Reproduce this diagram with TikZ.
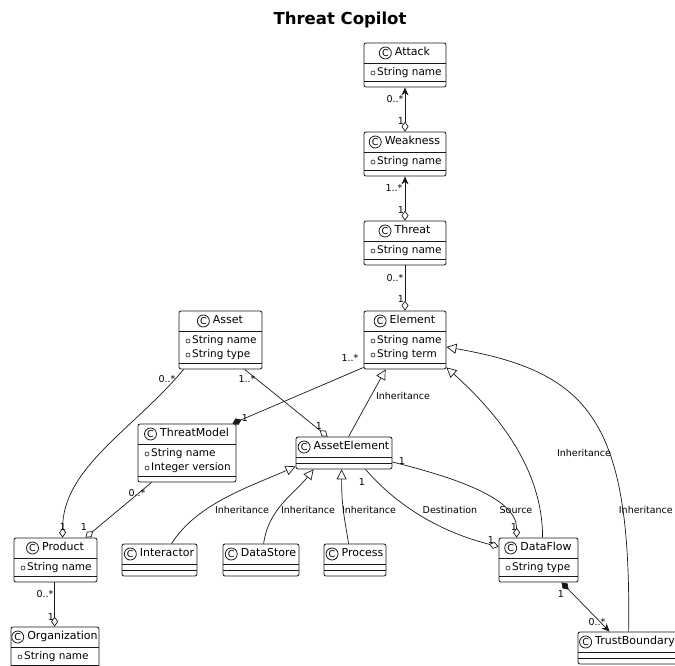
\documentclass[tikz,border=0pt]{standalone}
\usepackage{fontspec}
\setmainfont{DejaVu Sans}
\usetikzlibrary{arrows.meta}
\tikzset{
  clsbox/.style={draw=black!90, line width=0.8pt, rounded corners=2pt, inner sep=0pt, fill=white},
  sepline/.style={draw=black!90, line width=0.8pt},
  clstitle/.style={font=\fontsize{11}{13}\selectfont, inner sep=0pt, text height=8pt, text depth=2.4pt},
  circc/.style={circle, draw=black!90, line width=0.8pt, inner sep=0pt, minimum size=12pt, font=\fontsize{9.5}{10}\selectfont},
  attr/.style={font=\fontsize{10.5}{12}\selectfont, inner sep=0pt, anchor=west, text height=7.8pt, text depth=2.3pt},
  lbl/.style={font=\fontsize{9.5}{11}\selectfont, inner sep=0pt},
  conn/.style={line width=0.7pt, draw=black!90},
  agg/.style={conn, -{Diamond[length=10pt,width=7pt,fill=white]}},
  aggarrow/.style={conn, {Diamond[length=10pt,width=7pt,fill=white]}-{Stealth[length=8pt,width=7pt,inset=2.5pt]}},
  comp/.style={conn, -{Diamond[length=10pt,width=7pt]}},
  comparrow/.style={conn, {Diamond[length=10pt,width=7pt]}-{Stealth[length=8pt,width=7pt,inset=2.5pt]}},
  inh/.style={conn, -{Triangle[length=10pt,width=10pt,fill=white]}},
}
\newcommand{\umlclass}[7]{%
  \pgfmathsetmacro{\ucHs}{#3+20}%
  \ifnum#6>0 \pgfmathsetmacro{\ucAs}{\ucHs+14*#6+4}\else\pgfmathsetmacro{\ucAs}{\ucHs+6}\fi
  \pgfmathsetmacro{\ucBt}{\ucAs+6}%
  \pgfmathsetmacro{\ucW}{#4-#2}%
  \pgfmathsetmacro{\ucH}{\ucBt-#3}%
  \pgfmathsetmacro{\ucCx}{(#2+#4)/2}%
  \pgfmathsetmacro{\ucCy}{(#3+\ucBt)/2}%
  \node[clsbox, minimum width=\ucW pt, minimum height=\ucH pt] (#1) at (\ucCx,\ucCy) {};
  \draw[sepline] (#2,\ucHs) -- (#4,\ucHs) (#2,\ucAs) -- (#4,\ucAs);
  \node[clstitle] (#1-t) at (\ucCx+7.5,#3+10) {#5};
  \node[circc, anchor=east] at ([xshift=-3pt]#1-t.west) {C};
  \ifnum#6>0
  \foreach \a [count=\i] in {#7} {
    \draw[sepline, line width=0.6pt] (#2+9,\ucHs+14*\i-4) circle (2pt);
    \node[attr] at (#2+13,\ucHs+14*\i-4) {\a};
  }\fi
}
\begin{document}
\begin{tikzpicture}[x=1pt,y=-1pt]
\path[use as bounding box] (0,0) rectangle (675,665);
\clip (0,0) rectangle (675,665);
\node[font=\bfseries\fontsize{16.5}{18}\selectfont] (title) at (340,20) {Threat Copilot};

\umlclass{attack}{364}{43}{446}{Attack}{1}{String name}
\umlclass{weakness}{364}{132}{446}{Weakness}{1}{String name}
\umlclass{threat}{364}{221}{446}{Threat}{1}{String name}
\umlclass{element}{364}{311}{446}{Element}{2}{String name,String term}
\umlclass{asset}{179}{311}{262}{Asset}{2}{String name,String type}
\umlclass{threatmodel}{138}{424}{236}{ThreatModel}{2}{String name,Integer version}
\umlclass{assetelement}{296}{437}{392}{AssetElement}{0}{}
\umlclass{product}{14}{538}{97}{Product}{1}{String name}
\umlclass{interactor}{122}{544}{197}{Interactor}{0}{}
\umlclass{datastore}{223}{544}{299}{DataStore}{0}{}
\umlclass{process}{324}{544}{386}{Process}{0}{}
\umlclass{dataflow}{499}{538}{578}{DataFlow}{1}{String type}
\umlclass{organization}{11}{627}{99}{Organization}{1}{String name}
\umlclass{trustboundary}{578}{632}{677}{TrustBoundary}{0}{}

% connectors
\draw[aggarrow] (weakness.north) -- (attack.south);
\draw[aggarrow] (threat.north) -- (weakness.south);
\draw[agg] (threat.south) -- (element.north);
\draw[agg] ([xshift=5pt]asset.south west) .. controls +(-50,60) and +(0,-70) .. ([xshift=49pt]product.north west);
\draw[agg] ([xshift=66pt]asset.south west) -- ([xshift=32pt]assetelement.north west);
\draw[comp] ([yshift=2pt]element.south west) -- ([xshift=-4pt]threatmodel.north east);
\draw[agg] ([xshift=14pt]threatmodel.south west) -- ([xshift=-12pt]product.north east);
\draw[agg] ([xshift=41pt]product.south west) -- ([xshift=44pt]organization.north west);
\draw[inh] ([xshift=53pt]assetelement.north west) -- ([xshift=22pt]element.south west);
\draw[inh] ([xshift=50pt]interactor.north west) .. controls +(25,-40) and +(-45,20) .. ([yshift=3pt]assetelement.south west);
\draw[inh] ([xshift=41pt]datastore.north west) .. controls +(5,-35) and +(-20,25) .. ([xshift=18pt]assetelement.south west);
\draw[inh] ([xshift=25pt]process.north west) .. controls +(-5,-30) and +(0,35) .. ([xshift=46pt]assetelement.south west);
\draw[agg] ([xshift=70pt]assetelement.south west) .. controls +(30,35) and +(-60,-15) .. ([yshift=-9pt]dataflow.north west);
\draw[agg] ([yshift=-9pt]assetelement.east) .. controls +(60,15) and +(0,-40) .. ([xshift=18pt]dataflow.north west);
\draw[inh] ([xshift=44pt]dataflow.north west) .. controls +(0,-70) and +(50,45) .. ([yshift=2pt]element.south east);
\draw[inh] ([xshift=51pt]trustboundary.north west) .. controls +(3,-210) and +(144,25) .. ([yshift=-7pt]element.east);
\draw[comparrow] ([xshift=63pt]dataflow.south west) -- ([xshift=32pt]trustboundary.north west);

% labels
\node[lbl] (l1) at (395,99) {0..*};
\node[lbl] (l2) at (401,121) {1};
\node[lbl] (l3) at (394,188) {1..*};
\node[lbl] (l4) at (401,210) {1};
\node[lbl] (l5) at (395,278) {0..*};
\node[lbl] (l6) at (401,299) {1};
\node[lbl] (l7) at (167,379) {0..*};
\node[lbl] (l8) at (63,527) {1};
\node[lbl] (l9) at (247,379) {1..*};
\node[lbl] (l10) at (319,426) {1};
\node[lbl] (l11) at (350,358) {1..*};
\node[lbl] (l12) at (245,418) {1};
\node[lbl] (l13) at (137,493) {0..*};
\node[lbl] (l14) at (84,527) {1};
\node[lbl] (l15) at (45,594) {0..*};
\node[lbl] (l16) at (51,617) {1};
\node[lbl] (i1) at (403,396) {Inheritance};
\node[lbl] (i2) at (242,510) {Inheritance};
\node[lbl] (i3) at (308,510) {Inheritance};
\node[lbl] (i4) at (369,510) {Inheritance};
\node[lbl] (i5) at (584,453) {Inheritance};
\node[lbl, anchor=east] (i6) at (673,510) {Inheritance};
\node[lbl] (d1) at (362,482) {1};
\node[lbl] (d2) at (450,510) {Destination};
\node[lbl] (d3) at (491,540) {1};
\node[lbl] (s1) at (402,461) {1};
\node[lbl] (s2) at (516,510) {Source};
\node[lbl] (s3) at (514,527) {1};
\node[lbl] (t1) at (561,594) {1};
\node[lbl] (t2) at (597,622) {0..*};
\end{tikzpicture}
\end{document}
